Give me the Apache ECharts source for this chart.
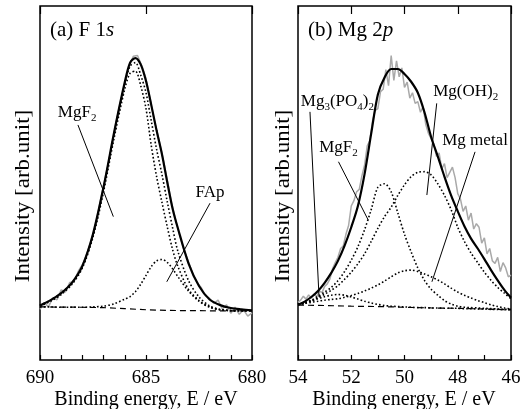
<!DOCTYPE html>
<html><head><meta charset="utf-8">
<script src="https://cdn.jsdelivr.net/npm/echarts@6/dist/echarts.min.js"></script>
<style>html,body{margin:0;padding:0;background:#fff}#c{width:527px;height:409px}</style>
</head><body><div id="c"></div>
<script>
// ---------------- Panel (a) F 1s ----------------
const energyA = [690, 689.5, 689, 688.5, 688, 687.5, 687, 686.5, 686, 685.75, 685.5, 685.25, 685, 684.75, 684.5, 684.25, 684, 683.75, 683.5, 683, 682.5, 682, 681.5, 681, 680.5, 680];
const envelopeA = [15.4, 16.9, 18.9, 21.8, 26.6, 35.6, 48.9, 64.4, 78.5, 84.0, 85.3, 83.5, 78.8, 72.0, 64.8, 58.2, 50.3, 42.9, 37.3, 27.4, 20.9, 17.1, 15.5, 14.7, 14.3, 14.0];
const mgf2A = [15.2, 16.6, 18.5, 21.3, 26.0, 34.7, 47.6, 62.8, 76.6, 81.0, 81.6, 77.5, 71.0, 60.5, 51.8, 44.6, 37.7, 31.3, 26.5, 20.0, 16.8, 15.0, 14.2, 14.0, 13.9, 13.9];
const sumA = [15.4, 16.9, 18.9, 21.7, 26.4, 35.3, 48.5, 64.0, 78.0, 83.0, 84.0, 80.5, 75.5, 67.5, 59.5, 52.5, 44.8, 37.5, 30.8, 22.5, 17.8, 15.3, 14.3, 14.0, 13.9, 13.9];
const fapA = [15.0, 15.0, 14.9, 14.9, 14.9, 15.0, 15.2, 15.9, 17.2, 17.9, 19.3, 21.4, 23.9, 26.4, 28.0, 28.4, 27.6, 25.8, 23.6, 19.5, 16.6, 14.9, 14.2, 13.9, 13.9, 13.9];
const bgEnergyA = [690, 688, 687, 686, 685, 684, 682, 680];
const backgroundA = [15.0, 14.9, 14.8, 14.5, 14.2, 14.0, 13.9, 13.9];
const rawA = [[690.0,14.3],[689.8,16.2],[689.6,15.0],[689.4,17.6],[689.2,17.0],[689.0,19.8],[688.8,19.2],[688.6,21.9],[688.4,22.0],[688.2,25.0],[688.0,26.9],[687.8,29.8],[687.6,33.5],[687.4,37.6],[687.2,43.5],[687.0,49.3],[686.8,54.8],[686.6,61.0],[686.4,67.5],[686.2,73.0],[686.0,78.2],[685.8,82.8],[685.6,85.8],[685.4,86.0],[685.2,83.2],[685.0,79.5],[684.8,73.5],[684.6,67.5],[684.4,62.5],[684.2,57.0],[684.0,51.0],[683.8,44.5],[683.6,39.5],[683.4,35.0],[683.2,31.0],[683.0,27.8],[682.8,24.5],[682.6,22.0],[682.4,20.5],[682.2,18.2],[682.0,17.4],[681.8,16.0],[681.6,16.9],[681.4,14.4],[681.2,15.6],[681.0,13.2],[680.8,14.9],[680.6,12.9],[680.4,14.2],[680.2,12.4],[680.0,13.3]];
const ticksA = [690, 685, 680];

// ---------------- Panel (b) Mg 2p ----------------
const energyB = [54, 53.75, 53.5, 53.25, 53, 52.75, 52.5, 52.25, 52, 51.75, 51.5, 51.25, 51, 50.75, 50.5, 50.25, 50, 49.75, 49.5, 49.25, 49, 48.75, 48.5, 48.25, 48, 47.75, 47.5, 47.25, 47, 46.75, 46.5, 46.25, 46];
const envelopeB = [15.6, 16.5, 17.8, 19.5, 21.8, 24.6, 28.0, 32.3, 37.5, 43.5, 52.5, 64.0, 75.0, 79.8, 82.2, 82.2, 80.8, 78.6, 75.5, 70.0, 63.0, 57.5, 51.8, 46.5, 42.0, 37.8, 34.3, 31.5, 28.5, 25.4, 22.5, 19.8, 17.6];
const mgf2B = [15.8, 16.2, 16.9, 18.0, 19.2, 20.5, 22.4, 25.0, 28.2, 32.0, 36.8, 42.5, 48.8, 49.8, 47.5, 41.5, 35.5, 30.5, 26.0, 22.5, 20.0, 18.3, 16.8, 15.8, 15.2, 14.9, 14.8, 14.7, 14.6, 14.5, 14.4, 14.3, 14.3];
const hydroxideB = [15.6, 16.0, 16.7, 17.6, 18.6, 19.7, 21.0, 22.8, 24.8, 27.2, 30.0, 33.5, 37.2, 40.5, 43.2, 46.5, 49.5, 51.8, 53.0, 53.2, 52.3, 49.8, 46.5, 42.5, 37.5, 33.5, 30.2, 27.5, 24.8, 22.5, 20.5, 18.9, 17.3];
const metalB = [15.7, 16.0, 16.3, 16.6, 16.9, 17.1, 17.3, 17.7, 18.2, 18.8, 19.5, 20.3, 21.2, 22.3, 23.5, 24.6, 25.2, 25.4, 25.0, 24.3, 23.5, 22.6, 21.5, 20.3, 19.2, 18.3, 17.5, 16.8, 16.2, 15.6, 15.1, 14.7, 14.4];
const phosphateB = [15.8, 16.2, 16.7, 17.3, 17.9, 18.3, 18.5, 18.3, 17.8, 17.2, 16.6, 16.1, 15.7, 15.4, 15.2, 15.1, 15.0, 14.9, 14.8, 14.8, 14.7, 14.7, 14.6, 14.6, 14.6, 14.5, 14.5, 14.4, 14.4, 14.3, 14.3, 14.2, 14.2];
const bgEnergyB = [54, 53, 52, 51, 50, 49, 48, 47, 46];
const backgroundB = [15.5, 15.4, 15.2, 15.1, 14.9, 14.7, 14.6, 14.4, 14.2];
const rawB = [[54.0,16.3],[53.9,16.9],[53.8,18.0],[53.7,17.2],[53.6,18.4],[53.5,17.5],[53.4,18.6],[53.3,17.9],[53.2,19.5],[53.1,19.0],[53.0,20.8],[52.9,21.5],[52.8,22.9],[52.7,25.8],[52.6,27.5],[52.5,29.0],[52.4,31.5],[52.3,32.2],[52.2,35.5],[52.1,38.0],[52.0,43.5],[51.9,45.0],[51.8,47.5],[51.7,48.2],[51.6,52.0],[51.5,55.0],[51.4,60.5],[51.3,62.0],[51.2,67.5],[51.1,70.5],[51.0,71.0],[50.9,75.8],[50.8,76.5],[50.7,82.0],[50.6,77.5],[50.5,86.0],[50.4,79.0],[50.3,84.5],[50.2,80.0],[50.1,82.5],[50.0,77.0],[49.9,78.5],[49.8,74.0],[49.7,75.5],[49.6,72.5],[49.5,73.0],[49.4,70.0],[49.3,71.5],[49.2,66.5],[49.1,64.0],[49.0,62.5],[48.9,61.0],[48.8,57.5],[48.7,58.5],[48.6,54.0],[48.5,55.5],[48.4,51.5],[48.3,53.0],[48.2,54.5],[48.1,51.5],[48.0,47.0],[47.9,45.5],[47.8,42.0],[47.7,43.5],[47.6,39.5],[47.5,41.5],[47.4,37.0],[47.3,38.5],[47.2,37.5],[47.1,33.0],[47.0,34.5],[46.9,30.0],[46.8,31.5],[46.7,28.0],[46.6,27.3],[46.5,29.0],[46.4,25.0],[46.3,27.5],[46.2,26.0],[46.1,23.5],[46.0,24.0]];
const ticksB = [54, 52, 50, 48, 46];

// ---------------- texts ----------------
const titleA = '{t|(a) F 1}{i|s}';
const titleB = '{t|(b) Mg 2}{i|p}';
const xName = 'Binding energy, E / eV';
const yName = 'Intensity [arb.unit]';
const labelsA = ['{t|MgF}{s|2}', '{t|FAp}'];
const labelsB = ['{t|Mg}{s|3}{t|(PO}{s|4}{t|)}{s|2}', '{t|MgF}{s|2}', '{t|Mg(OH)}{s|2}', '{t|Mg metal}'];

// annotation placement (data coordinates) - layout, not data
const annA = [
  {at:[688.25, 69.8], from:[688.21, 66.4], to:[686.54, 40.5]},
  {at:[681.98, 47.4], from:[681.98, 44.3], to:[684.02, 22.1]}
];
const annB = [
  {at:[52.52, 73.0], from:[53.55, 70.1], to:[53.21, 17.8]},
  {at:[52.48, 59.9], from:[52.48, 56.0], to:[51.36, 39.5]},
  {at:[47.70, 75.8], from:[48.79, 72.5], to:[49.16, 46.6]},
  {at:[47.35, 62.1], from:[47.35, 58.8], to:[48.97, 22.1]}
];

const FONT = 'Liberation Serif';
const richLab = {
  t:{fontFamily:FONT, fontSize:17, fontWeight:'normal', color:'#000', lineHeight:22},
  s:{fontFamily:FONT, fontSize:11, fontWeight:'normal', color:'#000', lineHeight:13, verticalAlign:'bottom'}
};
const richTitle = {
  t:{fontFamily:FONT, fontSize:21, fontWeight:'normal', color:'#000', lineHeight:24},
  i:{fontFamily:FONT, fontSize:21, fontWeight:'normal', color:'#000', fontStyle:'italic', lineHeight:24}
};
const richTick = {n:{fontFamily:FONT, fontSize:19, color:'#000', lineHeight:22}};
function pairs(xs, ys){ return xs.map((x,i)=>[x, ys[i]]); }
const dotted = {color:'#000', width:1.6, type:[1.6,2.2]};
const dashed = {color:'#000', width:1.2, type:[6,4]};

function markLines(ann){
  return {silent:true, symbol:['none','none'], animation:false,
    lineStyle:{color:'#000', width:1, type:'solid'}, label:{show:false},
    emphasis:{disabled:true},
    data: ann.map(a=>[{coord:a.from},{coord:a.to}])};
}
function markPoints(ann, labels){
  return {silent:true, animation:false, symbol:'circle', symbolSize:1,
    itemStyle:{color:'rgba(0,0,0,0)'},
    data: ann.map((a,i)=>({coord:a.at, value:0,
      label:{show:true, position:'inside', color:'#000', formatter:labels[i], rich:richLab}}))};
}
function lineSeries(xi, yi, data, style, extra){
  return Object.assign({type:'line', xAxisIndex:xi, yAxisIndex:yi, data:data, showSymbol:false,
    symbol:'none', lineStyle:style, silent:true, animation:false}, extra||{});
}
function xAxisMain(grid, min, max, labelSet){
  return {gridIndex:grid, type:'value', min:min, max:max, inverse:true, interval:1,
    axisLine:{show:false}, splitLine:{show:false},
    axisTick:{show:true, inside:true, length:5, lineStyle:{color:'#000', width:1.2}},
    axisLabel:{show:true, margin:7, rich:richTick,
      showMinLabel:true, showMaxLabel:true, hideOverlap:false,
      formatter:v=> labelSet.includes(v) ? '{n|' + v + '}' : ''}};
}
function xAxisMajor(grid, min, max, iv){
  return {gridIndex:grid, type:'value', min:min, max:max, inverse:true, interval:iv,
    axisLine:{show:false}, splitLine:{show:false}, axisLabel:{show:false},
    axisTick:{show:true, inside:true, length:8, lineStyle:{color:'#000', width:1.2}}};
}
function yAxis(grid){
  return {gridIndex:grid, type:'value', min:0, max:100, axisLine:{show:false},
    axisTick:{show:false}, axisLabel:{show:false}, splitLine:{show:false}};
}
const nameFont = '20px "Liberation Serif"';

const chart = echarts.init(document.getElementById('c'));
chart.setOption({
  animation:false,
  backgroundColor:'#fff',
  title:[
    {text:titleA, left:45, top:13, textStyle:{fontWeight:'normal', rich:richTitle}},
    {text:titleB, left:303, top:13, textStyle:{fontWeight:'normal', rich:richTitle}}
  ],
  grid:[
    {left:40, top:6, width:212, height:354, show:true, borderColor:'#000', borderWidth:1.5, backgroundColor:'transparent'},
    {left:298, top:6, width:213, height:354, show:true, borderColor:'#000', borderWidth:1.5, backgroundColor:'transparent'}
  ],
  xAxis:[
    xAxisMain(0, 680, 690, ticksA), xAxisMajor(0, 680, 690, 5),
    xAxisMain(1, 46, 54, ticksB), xAxisMajor(1, 46, 54, 2)
  ],
  yAxis:[yAxis(0), yAxis(1)],
  graphic:[
    {type:'text', x:24, y:196, rotation:Math.PI/2, scaleX:1.15,
      style:{text:yName, font:nameFont, fill:'#000', textAlign:'center', textVerticalAlign:'middle'}},
    {type:'text', x:284, y:196, rotation:Math.PI/2, scaleX:1.15,
      style:{text:yName, font:nameFont, fill:'#000', textAlign:'center', textVerticalAlign:'middle'}},
    {type:'text', x:146, y:400, style:{text:xName, font:nameFont, fill:'#000', textAlign:'center', textVerticalAlign:'middle'}},
    {type:'text', x:404, y:400, style:{text:xName, font:nameFont, fill:'#000', textAlign:'center', textVerticalAlign:'middle'}}
  ],
  series:[
    lineSeries(0,0, rawA, {color:'#a9a9a9', width:1.5}, {z:1}),
    lineSeries(0,0, pairs(bgEnergyA, backgroundA), dashed, {z:2}),
    lineSeries(0,0, pairs(energyA, fapA), dotted, {smooth:0.3, z:3}),
    lineSeries(0,0, pairs(energyA, mgf2A), dotted, {smooth:0.3, z:3}),
    lineSeries(0,0, pairs(energyA, sumA), dotted, {smooth:0.3, z:3}),
    lineSeries(0,0, pairs(energyA, envelopeA), {color:'#000', width:2.2}, {smooth:0.3, z:4,
      markLine:markLines(annA), markPoint:markPoints(annA, labelsA)}),

    lineSeries(2,1, rawB, {color:'#a9a9a9', width:1.5}, {z:1}),
    lineSeries(2,1, pairs(bgEnergyB, backgroundB), dashed, {z:2}),
    lineSeries(2,1, pairs(energyB, phosphateB), dotted, {smooth:0.3, z:3}),
    lineSeries(2,1, pairs(energyB, metalB), dotted, {smooth:0.3, z:3}),
    lineSeries(2,1, pairs(energyB, mgf2B), dotted, {smooth:0.3, z:3}),
    lineSeries(2,1, pairs(energyB, hydroxideB), dotted, {smooth:0.3, z:3}),
    lineSeries(2,1, pairs(energyB, envelopeB), {color:'#000', width:2.2}, {smooth:0.3, z:4,
      markLine:markLines(annB), markPoint:markPoints(annB, labelsB)})
  ]
});
</script>
</body></html>
